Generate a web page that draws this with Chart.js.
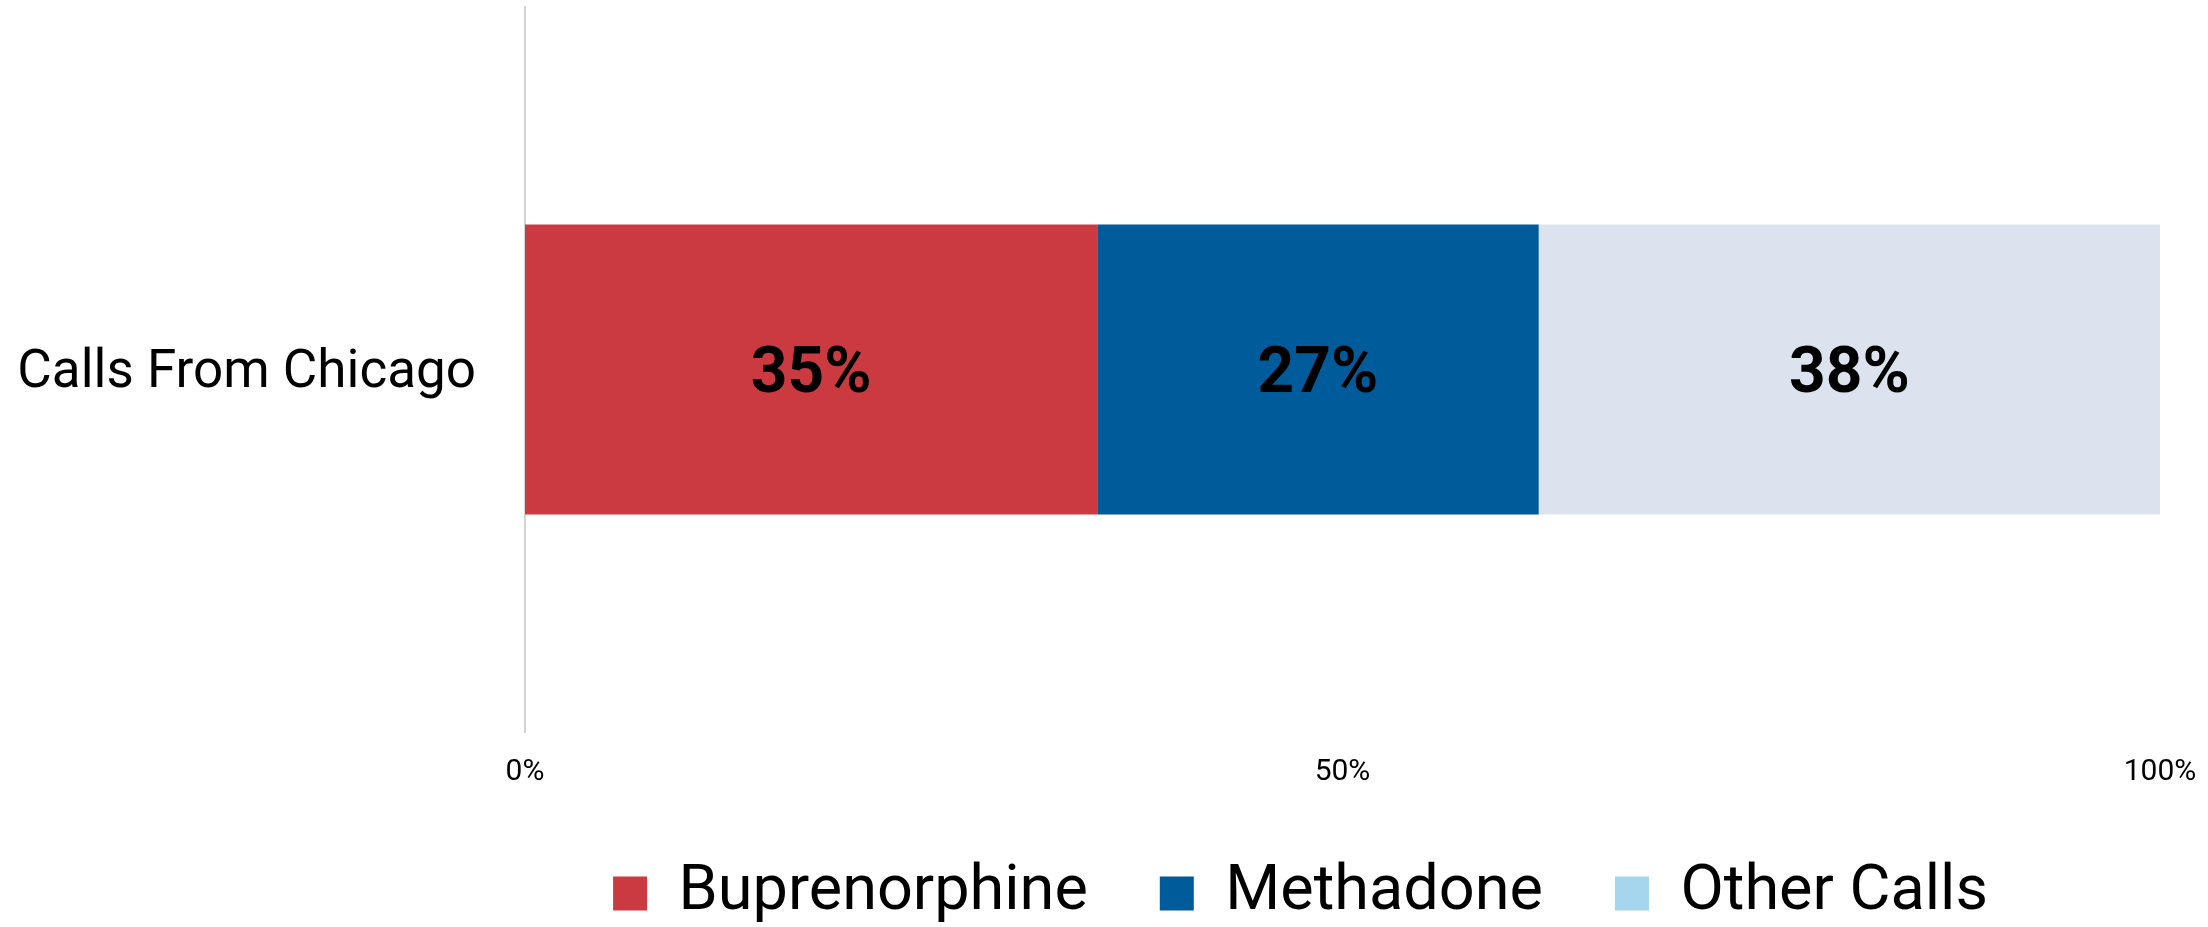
<!DOCTYPE html>
<html>
<head>
<meta charset="utf-8">
<script src="https://cdn.jsdelivr.net/npm/chart.js@4/dist/chart.umd.min.js"></script>
<style>
  html, body { margin: 0; padding: 0; background: #ffffff; }
  #wrap { width: 2208px; height: 927px; position: relative; }
</style>
</head>
<body>
<div id="wrap"><canvas id="c" width="2208" height="927"></canvas></div>
<script>
const categories = ["Calls From Chicago"];
const seriesNames = ["Buprenorphine", "Methadone", "Other Calls"];
const buprenorphine = [35];
const methadone = [27];
const otherCalls = [38];
const xTickValues = [0, 50, 100];

const barColors = ["#cb3a41", "#005b9a", "#dde3ee"];
const legendColors = ["#cb3a41", "#005b9a", "#a6d6ee"];

const valueLabels = {
  id: "valueLabels",
  afterDatasetsDraw(chart) {
    const ctx = chart.ctx;
    ctx.save();
    ctx.font = "bold 64px Roboto";
    ctx.fillStyle = "#000000";
    ctx.textAlign = "center";
    ctx.textBaseline = "middle";
    chart.data.datasets.forEach((ds, i) => {
      const meta = chart.getDatasetMeta(i);
      meta.data.forEach((el, j) => {
        const v = ds.data[j];
        const cx = (el.x + el.base) / 2;
        ctx.fillText(v + "%", cx, el.y + 6);
      });
    });
    ctx.restore();
  }
};

const legendShift = {
  id: "legendShift",
  afterLayout(chart) {
    const lg = chart.legend;
    if (lg) { lg.left -= 42; lg.right -= 42; }
  }
};

new Chart(document.getElementById("c"), {
  type: "bar",
  data: {
    labels: categories,
    datasets: [
      { label: seriesNames[0], data: buprenorphine, backgroundColor: barColors[0] },
      { label: seriesNames[1], data: methadone, backgroundColor: barColors[1] },
      { label: seriesNames[2], data: otherCalls, backgroundColor: barColors[2] }
    ]
  },
  options: {
    indexAxis: "y",
    responsive: false,
    animation: false,
    devicePixelRatio: 1,
    layout: { padding: { left: 17, right: 48, top: 7, bottom: -8 } },
    datasets: { bar: { barPercentage: 0.5, categoryPercentage: 0.8 } },
    scales: {
      x: {
        stacked: true,
        min: 0,
        max: 100,
        afterBuildTicks(scale) { scale.ticks = xTickValues.map(v => ({ value: v })); },
        afterFit(scale) { scale.height = 58; },
        grid: { display: false, drawTicks: true, tickLength: 22 },
        border: { display: false },
        ticks: {
          padding: 0,
          color: "#000000",
          font: { family: "Roboto", size: 30 },
          callback: v => v + "%"
        }
      },
      y: {
        stacked: true,
        grid: { display: false, drawTicks: true, tickLength: 49 },
        border: { display: true, color: "#d4d4d4", width: 2 },
        afterFit(scale) { scale.width = 508; },
        ticks: {
          padding: 0,
          labelOffset: 4,
          color: "#000000",
          font: { family: "Roboto", size: 53, lineHeight: 0.1 }
        }
      }
    },
    plugins: {
      tooltip: { enabled: false },
      legend: {
        position: "bottom",
        fullSize: false,
        labels: {
          boxWidth: 34,
          boxHeight: 34,
          padding: 72,
          color: "#000000",
          font: { family: "Roboto", size: 63 },
          generateLabels(chart) {
            return chart.data.datasets.map((ds, i) => ({
              text: ds.label,
              fillStyle: legendColors[i],
              strokeStyle: legendColors[i],
              lineWidth: 0,
              hidden: false,
              datasetIndex: i,
              fontColor: "#000000"
            }));
          }
        }
      }
    }
  },
  plugins: [valueLabels, legendShift]
});
</script>
</body>
</html>
